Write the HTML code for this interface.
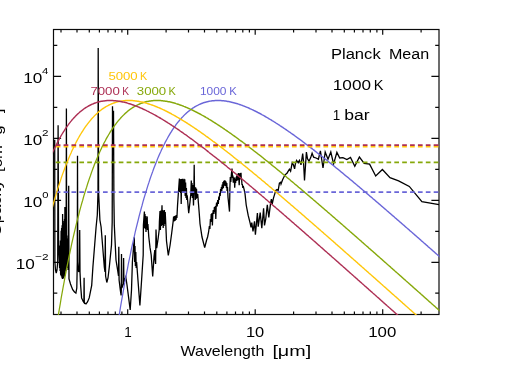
<!DOCTYPE html><html><head><meta charset="utf-8"><style>html,body{margin:0;padding:0;background:#fff}svg{display:block}text{font-family:"Liberation Sans",sans-serif;fill:#000}</style></head><body>
<svg width="507" height="374" viewBox="0 0 507 374">
<rect width="507" height="374" fill="#fff"/>
<defs><clipPath id="c"><rect x="52.9" y="29.0" width="386.6" height="286.0"/></clipPath></defs>
<g stroke="#0a0a0a" stroke-width="1.2" fill="none">
<rect x="53.5" y="29.5" width="385.5" height="285.0"/>
<path d="M61.0 314.5 v-2.9 M61.0 29.5 v2.9 M77.0 314.5 v-2.9 M77.0 29.5 v2.9 M89.3 314.5 v-2.9 M89.3 29.5 v2.9 M99.4 314.5 v-2.9 M99.4 29.5 v2.9 M108.0 314.5 v-2.9 M108.0 29.5 v2.9 M115.3 314.5 v-2.9 M115.3 29.5 v2.9 M121.9 314.5 v-2.9 M121.9 29.5 v2.9 M127.7 314.5 v-5.2 M127.7 29.5 v5.2 M166.1 314.5 v-2.9 M166.1 29.5 v2.9 M188.5 314.5 v-2.9 M188.5 29.5 v2.9 M204.5 314.5 v-2.9 M204.5 29.5 v2.9 M216.8 314.5 v-2.9 M216.8 29.5 v2.9 M226.9 314.5 v-2.9 M226.9 29.5 v2.9 M235.5 314.5 v-2.9 M235.5 29.5 v2.9 M242.8 314.5 v-2.9 M242.8 29.5 v2.9 M249.4 314.5 v-2.9 M249.4 29.5 v2.9 M255.2 314.5 v-5.2 M255.2 29.5 v5.2 M293.6 314.5 v-2.9 M293.6 29.5 v2.9 M316.0 314.5 v-2.9 M316.0 29.5 v2.9 M332.0 314.5 v-2.9 M332.0 29.5 v2.9 M344.3 314.5 v-2.9 M344.3 29.5 v2.9 M354.4 314.5 v-2.9 M354.4 29.5 v2.9 M363.0 314.5 v-2.9 M363.0 29.5 v2.9 M370.3 314.5 v-2.9 M370.3 29.5 v2.9 M376.9 314.5 v-2.9 M376.9 29.5 v2.9 M382.7 314.5 v-5.2 M382.7 29.5 v5.2 M421.1 314.5 v-2.9 M421.1 29.5 v2.9 M53.5 293.2 h3.8 M439.0 293.2 h-3.8 M53.5 262.3 h7.6 M439.0 262.3 h-7.6 M53.5 231.3 h3.8 M439.0 231.3 h-3.8 M53.5 200.3 h7.6 M439.0 200.3 h-7.6 M53.5 169.3 h3.8 M439.0 169.3 h-3.8 M53.5 138.3 h7.6 M439.0 138.3 h-7.6 M53.5 107.4 h3.8 M439.0 107.4 h-3.8 M53.5 76.4 h7.6 M439.0 76.4 h-7.6 M53.5 45.4 h3.8 M439.0 45.4 h-3.8"/>
</g>
<g clip-path="url(#c)" fill="none" stroke-linejoin="round" stroke-linecap="butt">
<path d="M54.7 139.80 L54.9 262.00 L55.5 270.00 L56.2 273.20 L57.0 270.00 L57.7 262.00 L58.1 125.30 L58.6 246.00 L59.4 262.00 L59.6 268.00 L59.9 245.50 L60.1 271.00 L60.4 240.50 L60.6 274.00 L60.8 275.00 L61.1 230.67 L61.3 276.33 L61.6 228.00 L61.9 277.67 L62.1 225.33 L62.4 279.00 L62.6 214.00 L62.8 279.00 L63.0 225.00 L63.3 278.25 L63.5 223.00 L63.8 277.50 L64.0 221.00 L64.2 276.75 L64.5 219.00 L64.7 276.00 L64.9 207.00 L65.1 274.00 L65.3 213.00 L65.6 271.00 L65.8 215.00 L66.1 268.00 L66.4 108.60 L66.7 266.00 L67.0 235.50 L67.4 268.00 L67.8 238.50 L68.1 270.00 L68.4 268.00 L68.7 185.70 L69.0 279.00 L70.5 284.00 L72.7 289.70 L74.5 292.00 L75.9 293.10 L76.8 288.00 L77.3 262.00 L77.5 155.80 L77.8 262.00 L78.6 272.00 L79.4 270.00 L79.7 230.10 L80.0 272.00 L80.6 285.00 L81.6 297.90 L83.2 301.50 L83.9 302.50 L84.1 277.70 L84.3 302.80 L86.0 303.80 L87.5 302.00 L89.2 297.90 L91.7 285.30 L92.9 267.00 L96.1 227.00 L97.3 215.00 L98.0 192.60 L98.2 48.10 L98.6 192.60 L99.9 220.00 L101.1 227.00 L104.3 267.00 L105.0 272.00 L105.3 235.20 L105.6 276.00 L106.8 282.50 L108.0 278.00 L109.3 267.00 L111.5 245.00 L112.2 222.00 L112.5 106.20 L113.0 150.00 L113.5 110.70 L113.9 200.00 L114.3 225.00 L116.0 260.00 L117.6 270.00 L118.5 276.00 L118.8 246.80 L119.1 280.00 L120.3 290.00 L121.1 295.40 L121.3 290.00 L121.5 254.00 L121.8 288.00 L123.4 284.00 L123.6 258.00 L123.9 282.00 L125.8 277.00 L127.0 285.00 L130.2 309.90 L131.5 290.00 L132.4 262.00 L134.3 237.20 L134.7 262.00 L135.0 246.00 L135.4 266.00 L135.8 252.00 L136.2 268.00 L136.6 262.00 L139.9 305.50 L141.6 280.00 L143.2 255.00 L143.4 225.00 L144.4 211.60 L144.6 228.00 L145.0 214.00 L145.3 229.00 L145.7 216.00 L146.0 232.00 L146.4 218.00 L146.7 228.00 L147.2 216.40 L147.5 230.00 L147.9 224.00 L148.8 237.00 L150.0 247.40 L151.2 255.00 L152.7 276.50 L154.0 257.00 L154.8 250.00 L155.2 260.00 L155.6 264.00 L155.8 249.00 L156.0 229.40 L156.7 248.20 L158.2 238.00 L159.2 229.80 L159.4 222.00 L160.0 211.00 L160.4 230.00 L160.9 210.50 L161.3 226.00 L162.0 205.20 L162.4 225.00 L162.8 210.00 L163.2 228.00 L163.6 211.00 L164.0 226.00 L164.4 210.00 L164.8 224.00 L165.2 212.00 L165.6 220.00 L166.5 241.00 L168.3 255.50 L170.1 245.00 L171.7 233.00 L172.5 226.60 L173.2 221.00 L173.6 216.50 L174.0 221.50 L174.5 216.00 L175.0 221.00 L175.5 215.60 L176.0 220.00 L176.5 215.00 L176.9 218.00 L177.5 206.00 L178.3 194.00 L179.4 178.50 L179.8 192.00 L180.2 179.00 L180.6 193.00 L180.9 180.00 L181.2 204.00 L181.6 179.00 L182.0 192.00 L182.4 178.80 L182.8 193.00 L183.2 179.50 L183.6 192.00 L184.0 178.80 L184.4 193.00 L184.8 179.20 L185.2 196.00 L185.6 182.40 L186.0 198.00 L186.4 188.00 L186.8 200.00 L187.2 195.20 L188.7 213.20 L190.0 202.00 L190.8 194.00 L191.3 180.40 L191.6 196.00 L192.0 183.00 L192.4 198.00 L192.8 185.00 L193.2 197.00 L193.5 205.60 L193.9 188.00 L194.2 164.70 L194.5 192.00 L194.9 187.00 L195.3 200.00 L195.7 187.50 L196.1 199.00 L196.5 188.70 L197.0 198.00 L197.7 194.00 L198.5 204.00 L199.3 214.00 L200.0 223.80 L202.0 237.00 L204.7 247.60 L206.6 240.00 L207.6 237.00 L208.6 232.00 L209.4 226.00 L209.9 229.00 L210.4 219.00 L210.9 222.00 L211.2 214.00 L211.7 219.00 L212.0 213.00 L212.4 225.40 L212.8 214.00 L213.3 210.00 L213.9 214.00 L214.4 207.00 L215.0 212.00 L215.4 206.00 L215.8 219.00 L216.2 206.00 L216.6 202.50 L217.2 206.50 L217.7 200.00 L218.3 204.00 L218.8 196.50 L219.3 200.00 L219.7 193.00 L220.2 196.00 L220.6 189.00 L221.0 192.00 L221.4 187.00 L221.8 191.00 L222.2 184.50 L222.6 189.00 L223.0 182.00 L223.4 188.00 L223.8 181.00 L224.1 186.00 L224.4 180.40 L224.8 185.00 L225.2 180.60 L225.6 186.00 L226.0 181.50 L226.4 188.00 L226.8 183.00 L227.1 191.00 L227.5 187.00 L228.0 197.20 L229.5 211.60 L229.9 188.00 L230.3 177.00 L230.8 182.00 L231.4 174.00 L232.0 168.60 L232.5 178.00 L232.9 175.60 L233.3 182.70 L233.8 179.00 L234.3 177.50 L234.7 187.80 L235.2 178.80 L235.6 183.00 L236.0 178.00 L236.5 176.90 L236.9 181.00 L237.5 174.30 L237.9 180.00 L238.4 173.00 L238.8 178.00 L239.2 185.20 L239.6 176.00 L240.0 173.00 L240.4 179.00 L241.0 172.70 L241.3 180.00 L241.6 178.80 L242.0 185.00 L242.3 184.00 L242.8 188.00 L243.2 185.90 L244.2 189.80 L245.0 193.60 L246.2 205.00 L248.2 215.40 L250.2 223.40 L251.0 227.40 L251.8 222.60 L253.0 231.50 L254.5 221.40 L255.4 234.80 L257.4 213.00 L258.2 226.60 L260.2 212.60 L261.8 228.20 L263.6 208.20 L264.5 225.40 L265.8 218.60 L267.3 204.80 L268.8 217.40 L270.6 203.20 L271.4 199.20 L272.2 204.00 L273.4 198.40 L274.6 194.40 L275.8 190.40 L277.0 189.60 L278.2 190.40 L279.4 183.20 L280.6 182.40 L281.0 184.00 L282.6 179.80 L285.0 174.80 L287.0 173.20 L289.4 169.20 L290.6 171.20 L292.2 162.80 L293.4 164.80 L294.6 168.80 L295.4 163.60 L296.6 160.40 L298.2 162.80 L299.4 160.40 L301.0 164.80 L302.7 153.60 L303.5 161.20 L304.5 180.40 L306.4 152.00 L307.5 158.80 L309.0 161.20 L310.7 157.60 L312.1 153.20 L313.6 157.20 L316.0 158.00 L318.4 159.20 L320.4 150.80 L323.0 168.00 L325.2 152.00 L328.0 159.20 L330.8 152.00 L333.6 164.00 L336.9 152.40 L339.7 158.00 L342.9 157.60 L346.9 159.60 L350.5 157.40 L354.8 166.20 L359.4 157.00 L364.2 163.40 L369.6 164.10 L375.7 176.00 L382.4 169.50 L390.0 177.70 L398.6 180.80 L409.3 186.40 L421.9 201.60 L439.0 204.70" stroke="#000" stroke-width="1.3" stroke-linejoin="miter"/>
<g transform="scale(1,1.2)"><path d="M113.8 291.84 L114.8 286.28 L115.8 280.83 L116.7 275.50 L117.7 270.29 L118.7 265.18 L119.7 260.18 L120.6 255.28 L121.6 250.49 L122.6 245.81 L123.6 241.22 L124.5 236.73 L125.5 232.34 L126.5 228.05 L127.5 223.85 L128.4 219.74 L129.4 215.72 L130.4 211.79 L131.3 207.95 L132.3 204.19 L133.3 200.52 L134.3 196.94 L135.2 193.43 L136.2 190.00 L137.2 186.65 L138.2 183.38 L139.1 180.19 L140.1 177.07 L141.1 174.02 L142.1 171.05 L143.0 168.14 L144.0 165.31 L145.0 162.54 L146.0 159.84 L146.9 157.21 L147.9 154.64 L148.9 152.14 L149.8 149.70 L150.8 147.32 L151.8 145.00 L152.8 142.74 L153.7 140.54 L154.7 138.39 L155.7 136.30 L156.7 134.27 L157.6 132.29 L158.6 130.37 L159.6 128.49 L160.6 126.67 L161.5 124.90 L162.5 123.18 L163.5 121.51 L164.5 119.88 L165.4 118.31 L166.4 116.77 L167.4 115.29 L168.3 113.85 L169.3 112.45 L170.3 111.10 L171.3 109.78 L172.2 108.51 L173.2 107.28 L174.2 106.09 L175.2 104.94 L176.1 103.83 L177.1 102.75 L178.1 101.72 L179.1 100.72 L180.0 99.75 L181.0 98.82 L182.0 97.92 L183.0 97.06 L183.9 96.23 L184.9 95.44 L185.9 94.67 L186.9 93.94 L187.8 93.24 L188.8 92.56 L189.8 91.92 L190.7 91.31 L191.7 90.72 L192.7 90.16 L193.7 89.63 L194.6 89.13 L195.6 88.65 L196.6 88.19 L197.6 87.77 L198.5 87.36 L199.5 86.98 L200.5 86.63 L201.5 86.30 L202.4 85.99 L203.4 85.70 L204.4 85.43 L205.4 85.19 L206.3 84.96 L207.3 84.76 L208.3 84.58 L209.2 84.41 L210.2 84.27 L211.2 84.14 L212.2 84.03 L213.1 83.94 L214.1 83.87 L215.1 83.82 L216.1 83.78 L217.0 83.76 L218.0 83.75 L219.0 83.76 L220.0 83.78 L220.9 83.82 L221.9 83.88 L222.9 83.95 L223.9 84.03 L224.8 84.13 L225.8 84.24 L226.8 84.36 L227.7 84.50 L228.7 84.64 L229.7 84.80 L230.7 84.98 L231.6 85.16 L232.6 85.36 L233.6 85.56 L234.6 85.78 L235.5 86.01 L236.5 86.25 L237.5 86.50 L238.5 86.76 L239.4 87.03 L240.4 87.31 L241.4 87.60 L242.4 87.89 L243.3 88.20 L244.3 88.52 L245.3 88.84 L246.2 89.17 L247.2 89.51 L248.2 89.86 L249.2 90.22 L250.1 90.58 L251.1 90.95 L252.1 91.33 L253.1 91.72 L254.0 92.11 L255.0 92.51 L256.0 92.91 L257.0 93.33 L257.9 93.75 L258.9 94.17 L259.9 94.60 L260.9 95.04 L261.8 95.48 L262.8 95.93 L263.8 96.39 L264.8 96.85 L265.7 97.31 L266.7 97.78 L267.7 98.26 L268.6 98.74 L269.6 99.22 L270.6 99.71 L271.6 100.21 L272.5 100.71 L273.5 101.21 L274.5 101.72 L275.5 102.23 L276.4 102.75 L277.4 103.27 L278.4 103.80 L279.4 104.33 L280.3 104.86 L281.3 105.40 L282.3 105.94 L283.3 106.48 L284.2 107.03 L285.2 107.58 L286.2 108.13 L287.1 108.69 L288.1 109.25 L289.1 109.82 L290.1 110.38 L291.0 110.95 L292.0 111.53 L293.0 112.10 L294.0 112.68 L294.9 113.27 L295.9 113.85 L296.9 114.44 L297.9 115.03 L298.8 115.62 L299.8 116.22 L300.8 116.81 L301.8 117.41 L302.7 118.02 L303.7 118.62 L304.7 119.23 L305.6 119.84 L306.6 120.45 L307.6 121.06 L308.6 121.68 L309.5 122.30 L310.5 122.92 L311.5 123.54 L312.5 124.16 L313.4 124.79 L314.4 125.42 L315.4 126.05 L316.4 126.68 L317.3 127.31 L318.3 127.95 L319.3 128.58 L320.3 129.22 L321.2 129.86 L322.2 130.50 L323.2 131.14 L324.1 131.79 L325.1 132.43 L326.1 133.08 L327.1 133.73 L328.0 134.38 L329.0 135.03 L330.0 135.69 L331.0 136.34 L331.9 137.00 L332.9 137.65 L333.9 138.31 L334.9 138.97 L335.8 139.63 L336.8 140.29 L337.8 140.96 L338.8 141.62 L339.7 142.29 L340.7 142.95 L341.7 143.62 L342.7 144.29 L343.6 144.96 L344.6 145.63 L345.6 146.30 L346.5 146.97 L347.5 147.65 L348.5 148.32 L349.5 149.00 L350.4 149.67 L351.4 150.35 L352.4 151.03 L353.4 151.71 L354.3 152.39 L355.3 153.07 L356.3 153.75 L357.3 154.43 L358.2 155.11 L359.2 155.80 L360.2 156.48 L361.2 157.17 L362.1 157.85 L363.1 158.54 L364.1 159.23 L365.0 159.92 L366.0 160.61 L367.0 161.29 L368.0 161.99 L368.9 162.68 L369.9 163.37 L370.9 164.06 L371.9 164.75 L372.8 165.44 L373.8 166.14 L374.8 166.83 L375.8 167.53 L376.7 168.22 L377.7 168.92 L378.7 169.62 L379.7 170.31 L380.6 171.01 L381.6 171.71 L382.6 172.41 L383.5 173.11 L384.5 173.81 L385.5 174.51 L386.5 175.21 L387.4 175.91 L388.4 176.61 L389.4 177.31 L390.4 178.01 L391.3 178.71 L392.3 179.42 L393.3 180.12 L394.3 180.82 L395.2 181.53 L396.2 182.23 L397.2 182.94 L398.2 183.64 L399.1 184.35 L400.1 185.05 L401.1 185.76 L402.1 186.47 L403.0 187.17 L404.0 187.88 L405.0 188.59 L405.9 189.30 L406.9 190.01 L407.9 190.71 L408.9 191.42 L409.8 192.13 L410.8 192.84 L411.8 193.55 L412.8 194.26 L413.7 194.97 L414.7 195.68 L415.7 196.39 L416.7 197.10 L417.6 197.82 L418.6 198.53 L419.6 199.24 L420.6 199.95 L421.5 200.66 L422.5 201.38 L423.5 202.09 L424.4 202.80 L425.4 203.52 L426.4 204.23 L427.4 204.94 L428.3 205.66 L429.3 206.37 L430.3 207.08 L431.3 207.80 L432.2 208.51 L433.2 209.23 L434.2 209.94 L435.2 210.66 L436.1 211.37 L437.1 212.09 L438.1 212.81 L439.1 213.52 L440.0 214.24 L441.0 214.95" stroke="#6a66d8" stroke-width="1.25"/></g>
<path d="M47.85 192.1 H441" stroke="#6a66d8" stroke-width="1.8" stroke-dasharray="4.7 3.174"/>
<g transform="scale(1,1.2)"><path d="M52.5 294.81 L53.4 289.19 L54.4 283.69 L55.4 278.30 L56.4 273.02 L57.3 267.86 L58.3 262.80 L59.3 257.85 L60.3 253.01 L61.2 248.27 L62.2 243.63 L63.2 239.09 L64.2 234.65 L65.1 230.30 L66.1 226.05 L67.1 221.89 L68.1 217.83 L69.0 213.85 L70.0 209.96 L71.0 206.16 L71.9 202.45 L72.9 198.82 L73.9 195.27 L74.9 191.80 L75.8 188.41 L76.8 185.10 L77.8 181.86 L78.8 178.70 L79.7 175.62 L80.7 172.61 L81.7 169.67 L82.7 166.79 L83.6 163.99 L84.6 161.26 L85.6 158.59 L86.6 155.99 L87.5 153.45 L88.5 150.98 L89.5 148.57 L90.5 146.21 L91.4 143.92 L92.4 141.69 L93.4 139.52 L94.3 137.40 L95.3 135.34 L96.3 133.33 L97.3 131.37 L98.2 129.47 L99.2 127.63 L100.2 125.83 L101.2 124.08 L102.1 122.38 L103.1 120.73 L104.1 119.13 L105.1 117.58 L106.0 116.07 L107.0 114.60 L108.0 113.18 L109.0 111.80 L109.9 110.47 L110.9 109.18 L111.9 107.93 L112.8 106.71 L113.8 105.54 L114.8 104.41 L115.8 103.32 L116.7 102.26 L117.7 101.24 L118.7 100.25 L119.7 99.31 L120.6 98.39 L121.6 97.51 L122.6 96.67 L123.6 95.85 L124.5 95.07 L125.5 94.32 L126.5 93.60 L127.5 92.91 L128.4 92.26 L129.4 91.63 L130.4 91.02 L131.3 90.45 L132.3 89.91 L133.3 89.39 L134.3 88.90 L135.2 88.43 L136.2 87.99 L137.2 87.57 L138.2 87.18 L139.1 86.81 L140.1 86.47 L141.1 86.15 L142.1 85.85 L143.0 85.57 L144.0 85.32 L145.0 85.08 L146.0 84.87 L146.9 84.67 L147.9 84.50 L148.9 84.34 L149.8 84.21 L150.8 84.09 L151.8 83.99 L152.8 83.91 L153.7 83.84 L154.7 83.80 L155.7 83.77 L156.7 83.75 L157.6 83.75 L158.6 83.77 L159.6 83.80 L160.6 83.85 L161.5 83.91 L162.5 83.98 L163.5 84.07 L164.5 84.18 L165.4 84.29 L166.4 84.42 L167.4 84.56 L168.3 84.72 L169.3 84.88 L170.3 85.06 L171.3 85.25 L172.2 85.45 L173.2 85.67 L174.2 85.89 L175.2 86.12 L176.1 86.37 L177.1 86.62 L178.1 86.89 L179.1 87.16 L180.0 87.44 L181.0 87.74 L182.0 88.04 L183.0 88.35 L183.9 88.67 L184.9 89.00 L185.9 89.33 L186.9 89.68 L187.8 90.03 L188.8 90.39 L189.8 90.75 L190.7 91.13 L191.7 91.51 L192.7 91.90 L193.7 92.30 L194.6 92.70 L195.6 93.11 L196.6 93.52 L197.6 93.95 L198.5 94.37 L199.5 94.81 L200.5 95.25 L201.5 95.69 L202.4 96.15 L203.4 96.60 L204.4 97.06 L205.4 97.53 L206.3 98.01 L207.3 98.48 L208.3 98.97 L209.2 99.45 L210.2 99.95 L211.2 100.44 L212.2 100.95 L213.1 101.45 L214.1 101.96 L215.1 102.48 L216.1 103.00 L217.0 103.52 L218.0 104.05 L219.0 104.58 L220.0 105.11 L220.9 105.65 L221.9 106.19 L222.9 106.74 L223.9 107.29 L224.8 107.84 L225.8 108.40 L226.8 108.96 L227.7 109.52 L228.7 110.08 L229.7 110.65 L230.7 111.23 L231.6 111.80 L232.6 112.38 L233.6 112.96 L234.6 113.54 L235.5 114.13 L236.5 114.72 L237.5 115.31 L238.5 115.90 L239.4 116.50 L240.4 117.10 L241.4 117.70 L242.4 118.30 L243.3 118.91 L244.3 119.52 L245.3 120.13 L246.2 120.74 L247.2 121.35 L248.2 121.97 L249.2 122.59 L250.1 123.21 L251.1 123.83 L252.1 124.46 L253.1 125.09 L254.0 125.71 L255.0 126.34 L256.0 126.98 L257.0 127.61 L257.9 128.25 L258.9 128.88 L259.9 129.52 L260.9 130.16 L261.8 130.81 L262.8 131.45 L263.8 132.09 L264.8 132.74 L265.7 133.39 L266.7 134.04 L267.7 134.69 L268.6 135.34 L269.6 136.00 L270.6 136.65 L271.6 137.31 L272.5 137.96 L273.5 138.62 L274.5 139.28 L275.5 139.94 L276.4 140.61 L277.4 141.27 L278.4 141.94 L279.4 142.60 L280.3 143.27 L281.3 143.94 L282.3 144.61 L283.3 145.28 L284.2 145.95 L285.2 146.62 L286.2 147.29 L287.1 147.97 L288.1 148.64 L289.1 149.32 L290.1 149.99 L291.0 150.67 L292.0 151.35 L293.0 152.03 L294.0 152.71 L294.9 153.39 L295.9 154.07 L296.9 154.75 L297.9 155.44 L298.8 156.12 L299.8 156.81 L300.8 157.49 L301.8 158.18 L302.7 158.87 L303.7 159.55 L304.7 160.24 L305.6 160.93 L306.6 161.62 L307.6 162.31 L308.6 163.00 L309.5 163.69 L310.5 164.39 L311.5 165.08 L312.5 165.77 L313.4 166.47 L314.4 167.16 L315.4 167.86 L316.4 168.55 L317.3 169.25 L318.3 169.95 L319.3 170.64 L320.3 171.34 L321.2 172.04 L322.2 172.74 L323.2 173.44 L324.1 174.14 L325.1 174.84 L326.1 175.54 L327.1 176.24 L328.0 176.94 L329.0 177.64 L330.0 178.34 L331.0 179.05 L331.9 179.75 L332.9 180.45 L333.9 181.16 L334.9 181.86 L335.8 182.57 L336.8 183.27 L337.8 183.98 L338.8 184.68 L339.7 185.39 L340.7 186.09 L341.7 186.80 L342.7 187.51 L343.6 188.22 L344.6 188.92 L345.6 189.63 L346.5 190.34 L347.5 191.05 L348.5 191.76 L349.5 192.47 L350.4 193.18 L351.4 193.89 L352.4 194.60 L353.4 195.31 L354.3 196.02 L355.3 196.73 L356.3 197.44 L357.3 198.15 L358.2 198.86 L359.2 199.58 L360.2 200.29 L361.2 201.00 L362.1 201.71 L363.1 202.43 L364.1 203.14 L365.0 203.85 L366.0 204.57 L367.0 205.28 L368.0 205.99 L368.9 206.71 L369.9 207.42 L370.9 208.14 L371.9 208.85 L372.8 209.57 L373.8 210.28 L374.8 211.00 L375.8 211.71 L376.7 212.43 L377.7 213.14 L378.7 213.86 L379.7 214.58 L380.6 215.29 L381.6 216.01 L382.6 216.73 L383.5 217.44 L384.5 218.16 L385.5 218.88 L386.5 219.59 L387.4 220.31 L388.4 221.03 L389.4 221.75 L390.4 222.46 L391.3 223.18 L392.3 223.90 L393.3 224.62 L394.3 225.34 L395.2 226.06 L396.2 226.77 L397.2 227.49 L398.2 228.21 L399.1 228.93 L400.1 229.65 L401.1 230.37 L402.1 231.09 L403.0 231.81 L404.0 232.53 L405.0 233.25 L405.9 233.97 L406.9 234.69 L407.9 235.41 L408.9 236.13 L409.8 236.85 L410.8 237.57 L411.8 238.29 L412.8 239.01 L413.7 239.73 L414.7 240.45 L415.7 241.17 L416.7 241.89 L417.6 242.61 L418.6 243.33 L419.6 244.05 L420.6 244.77 L421.5 245.50 L422.5 246.22 L423.5 246.94 L424.4 247.66 L425.4 248.38 L426.4 249.10 L427.4 249.82 L428.3 250.55 L429.3 251.27 L430.3 251.99 L431.3 252.71 L432.2 253.43 L433.2 254.16 L434.2 254.88 L435.2 255.60 L436.1 256.32 L437.1 257.04 L438.1 257.77 L439.1 258.49 L440.0 259.21 L441.0 259.93" stroke="#86a80a" stroke-width="1.25"/></g>
<path d="M47.85 162.4 H441" stroke="#86a80a" stroke-width="1.8" stroke-dasharray="4.7 3.174"/>
<g transform="scale(1,1.2)"><path d="M51.5 175.47 L52.5 172.46 L53.4 169.53 L54.4 166.66 L55.4 163.86 L56.4 161.13 L57.3 158.46 L58.3 155.87 L59.3 153.33 L60.3 150.86 L61.2 148.45 L62.2 146.10 L63.2 143.81 L64.2 141.58 L65.1 139.41 L66.1 137.30 L67.1 135.24 L68.1 133.23 L69.0 131.28 L70.0 129.38 L71.0 127.54 L71.9 125.74 L72.9 124.00 L73.9 122.30 L74.9 120.65 L75.8 119.05 L76.8 117.50 L77.8 115.99 L78.8 114.53 L79.7 113.11 L80.7 111.74 L81.7 110.41 L82.7 109.12 L83.6 107.87 L84.6 106.66 L85.6 105.49 L86.6 104.36 L87.5 103.26 L88.5 102.21 L89.5 101.19 L90.5 100.21 L91.4 99.26 L92.4 98.35 L93.4 97.47 L94.3 96.63 L95.3 95.81 L96.3 95.03 L97.3 94.29 L98.2 93.57 L99.2 92.88 L100.2 92.22 L101.2 91.60 L102.1 91.00 L103.1 90.42 L104.1 89.88 L105.1 89.36 L106.0 88.87 L107.0 88.41 L108.0 87.97 L109.0 87.55 L109.9 87.16 L110.9 86.80 L111.9 86.45 L112.8 86.13 L113.8 85.83 L114.8 85.56 L115.8 85.30 L116.7 85.07 L117.7 84.86 L118.7 84.66 L119.7 84.49 L120.6 84.34 L121.6 84.20 L122.6 84.08 L123.6 83.99 L124.5 83.90 L125.5 83.84 L126.5 83.79 L127.5 83.76 L128.4 83.75 L129.4 83.75 L130.4 83.77 L131.3 83.80 L132.3 83.85 L133.3 83.91 L134.3 83.99 L135.2 84.08 L136.2 84.18 L137.2 84.30 L138.2 84.43 L139.1 84.57 L140.1 84.73 L141.1 84.89 L142.1 85.07 L143.0 85.26 L144.0 85.46 L145.0 85.68 L146.0 85.90 L146.9 86.14 L147.9 86.38 L148.9 86.63 L149.8 86.90 L150.8 87.17 L151.8 87.46 L152.8 87.75 L153.7 88.05 L154.7 88.36 L155.7 88.68 L156.7 89.01 L157.6 89.35 L158.6 89.69 L159.6 90.05 L160.6 90.41 L161.5 90.77 L162.5 91.15 L163.5 91.53 L164.5 91.92 L165.4 92.32 L166.4 92.72 L167.4 93.13 L168.3 93.54 L169.3 93.97 L170.3 94.39 L171.3 94.83 L172.2 95.27 L173.2 95.72 L174.2 96.17 L175.2 96.62 L176.1 97.09 L177.1 97.56 L178.1 98.03 L179.1 98.51 L180.0 98.99 L181.0 99.48 L182.0 99.97 L183.0 100.47 L183.9 100.97 L184.9 101.48 L185.9 101.99 L186.9 102.50 L187.8 103.02 L188.8 103.54 L189.8 104.07 L190.7 104.60 L191.7 105.14 L192.7 105.68 L193.7 106.22 L194.6 106.77 L195.6 107.31 L196.6 107.87 L197.6 108.42 L198.5 108.98 L199.5 109.55 L200.5 110.11 L201.5 110.68 L202.4 111.25 L203.4 111.83 L204.4 112.41 L205.4 112.99 L206.3 113.57 L207.3 114.16 L208.3 114.74 L209.2 115.34 L210.2 115.93 L211.2 116.53 L212.2 117.13 L213.1 117.73 L214.1 118.33 L215.1 118.94 L216.1 119.55 L217.0 120.16 L218.0 120.77 L219.0 121.38 L220.0 122.00 L220.9 122.62 L221.9 123.24 L222.9 123.86 L223.9 124.49 L224.8 125.12 L225.8 125.74 L226.8 126.37 L227.7 127.01 L228.7 127.64 L229.7 128.28 L230.7 128.91 L231.6 129.55 L232.6 130.19 L233.6 130.84 L234.6 131.48 L235.5 132.13 L236.5 132.77 L237.5 133.42 L238.5 134.07 L239.4 134.72 L240.4 135.37 L241.4 136.03 L242.4 136.68 L243.3 137.34 L244.3 138.00 L245.3 138.66 L246.2 139.32 L247.2 139.98 L248.2 140.64 L249.2 141.30 L250.1 141.97 L251.1 142.63 L252.1 143.30 L253.1 143.97 L254.0 144.64 L255.0 145.31 L256.0 145.98 L257.0 146.65 L257.9 147.32 L258.9 148.00 L259.9 148.67 L260.9 149.35 L261.8 150.03 L262.8 150.70 L263.8 151.38 L264.8 152.06 L265.7 152.74 L266.7 153.42 L267.7 154.10 L268.6 154.79 L269.6 155.47 L270.6 156.16 L271.6 156.84 L272.5 157.53 L273.5 158.21 L274.5 158.90 L275.5 159.59 L276.4 160.28 L277.4 160.96 L278.4 161.65 L279.4 162.34 L280.3 163.04 L281.3 163.73 L282.3 164.42 L283.3 165.11 L284.2 165.81 L285.2 166.50 L286.2 167.19 L287.1 167.89 L288.1 168.59 L289.1 169.28 L290.1 169.98 L291.0 170.68 L292.0 171.37 L293.0 172.07 L294.0 172.77 L294.9 173.47 L295.9 174.17 L296.9 174.87 L297.9 175.57 L298.8 176.27 L299.8 176.97 L300.8 177.68 L301.8 178.38 L302.7 179.08 L303.7 179.78 L304.7 180.49 L305.6 181.19 L306.6 181.90 L307.6 182.60 L308.6 183.31 L309.5 184.01 L310.5 184.72 L311.5 185.42 L312.5 186.13 L313.4 186.84 L314.4 187.54 L315.4 188.25 L316.4 188.96 L317.3 189.67 L318.3 190.37 L319.3 191.08 L320.3 191.79 L321.2 192.50 L322.2 193.21 L323.2 193.92 L324.1 194.63 L325.1 195.34 L326.1 196.05 L327.1 196.76 L328.0 197.47 L329.0 198.19 L330.0 198.90 L331.0 199.61 L331.9 200.32 L332.9 201.03 L333.9 201.75 L334.9 202.46 L335.8 203.17 L336.8 203.89 L337.8 204.60 L338.8 205.31 L339.7 206.03 L340.7 206.74 L341.7 207.46 L342.7 208.17 L343.6 208.89 L344.6 209.60 L345.6 210.32 L346.5 211.03 L347.5 211.75 L348.5 212.46 L349.5 213.18 L350.4 213.89 L351.4 214.61 L352.4 215.33 L353.4 216.04 L354.3 216.76 L355.3 217.48 L356.3 218.19 L357.3 218.91 L358.2 219.63 L359.2 220.35 L360.2 221.06 L361.2 221.78 L362.1 222.50 L363.1 223.22 L364.1 223.94 L365.0 224.65 L366.0 225.37 L367.0 226.09 L368.0 226.81 L368.9 227.53 L369.9 228.25 L370.9 228.97 L371.9 229.68 L372.8 230.40 L373.8 231.12 L374.8 231.84 L375.8 232.56 L376.7 233.28 L377.7 234.00 L378.7 234.72 L379.7 235.44 L380.6 236.16 L381.6 236.88 L382.6 237.60 L383.5 238.32 L384.5 239.04 L385.5 239.76 L386.5 240.48 L387.4 241.20 L388.4 241.93 L389.4 242.65 L390.4 243.37 L391.3 244.09 L392.3 244.81 L393.3 245.53 L394.3 246.25 L395.2 246.97 L396.2 247.69 L397.2 248.42 L398.2 249.14 L399.1 249.86 L400.1 250.58 L401.1 251.30 L402.1 252.02 L403.0 252.75 L404.0 253.47 L405.0 254.19 L405.9 254.91 L406.9 255.63 L407.9 256.36 L408.9 257.08 L409.8 257.80 L410.8 258.52 L411.8 259.25 L412.8 259.97 L413.7 260.69 L414.7 261.41 L415.7 262.14 L416.7 262.86 L417.6 263.58 L418.6 264.30 L419.6 265.03 L420.6 265.75 L421.5 266.47 L422.5 267.20 L423.5 267.92 L424.4 268.64 L425.4 269.36 L426.4 270.09 L427.4 270.81 L428.3 271.53 L429.3 272.26 L430.3 272.98 L431.3 273.70 L432.2 274.43 L433.2 275.15 L434.2 275.87 L435.2 276.60 L436.1 277.32 L437.1 278.05 L438.1 278.77 L439.1 279.49 L440.0 280.22 L441.0 280.94" stroke="#ffc60a" stroke-width="1.25"/></g>
<path d="M47.85 146.6 H441" stroke="#ffc60a" stroke-width="1.8" stroke-dasharray="4.7 3.174"/>
<g transform="scale(1,1.2)"><path d="M51.5 129.13 L52.5 127.29 L53.4 125.51 L54.4 123.77 L55.4 122.08 L56.4 120.44 L57.3 118.84 L58.3 117.30 L59.3 115.80 L60.3 114.34 L61.2 112.93 L62.2 111.56 L63.2 110.23 L64.2 108.95 L65.1 107.70 L66.1 106.50 L67.1 105.33 L68.1 104.21 L69.0 103.12 L70.0 102.07 L71.0 101.06 L71.9 100.08 L72.9 99.14 L73.9 98.23 L74.9 97.36 L75.8 96.52 L76.8 95.71 L77.8 94.93 L78.8 94.19 L79.7 93.47 L80.7 92.79 L81.7 92.14 L82.7 91.51 L83.6 90.92 L84.6 90.35 L85.6 89.81 L86.6 89.30 L87.5 88.81 L88.5 88.35 L89.5 87.91 L90.5 87.50 L91.4 87.11 L92.4 86.75 L93.4 86.41 L94.3 86.09 L95.3 85.80 L96.3 85.52 L97.3 85.27 L98.2 85.04 L99.2 84.83 L100.2 84.64 L101.2 84.47 L102.1 84.32 L103.1 84.18 L104.1 84.07 L105.1 83.97 L106.0 83.90 L107.0 83.83 L108.0 83.79 L109.0 83.76 L109.9 83.75 L110.9 83.75 L111.9 83.77 L112.8 83.81 L113.8 83.86 L114.8 83.92 L115.8 84.00 L116.7 84.09 L117.7 84.20 L118.7 84.32 L119.7 84.45 L120.6 84.59 L121.6 84.75 L122.6 84.92 L123.6 85.10 L124.5 85.29 L125.5 85.49 L126.5 85.71 L127.5 85.93 L128.4 86.17 L129.4 86.41 L130.4 86.67 L131.3 86.94 L132.3 87.21 L133.3 87.50 L134.3 87.79 L135.2 88.09 L136.2 88.41 L137.2 88.73 L138.2 89.06 L139.1 89.39 L140.1 89.74 L141.1 90.09 L142.1 90.45 L143.0 90.82 L144.0 91.20 L145.0 91.58 L146.0 91.97 L146.9 92.37 L147.9 92.77 L148.9 93.18 L149.8 93.60 L150.8 94.02 L151.8 94.45 L152.8 94.89 L153.7 95.33 L154.7 95.78 L155.7 96.23 L156.7 96.69 L157.6 97.15 L158.6 97.62 L159.6 98.09 L160.6 98.57 L161.5 99.05 L162.5 99.54 L163.5 100.04 L164.5 100.54 L165.4 101.04 L166.4 101.54 L167.4 102.06 L168.3 102.57 L169.3 103.09 L170.3 103.62 L171.3 104.14 L172.2 104.67 L173.2 105.21 L174.2 105.75 L175.2 106.29 L176.1 106.84 L177.1 107.39 L178.1 107.94 L179.1 108.50 L180.0 109.06 L181.0 109.62 L182.0 110.19 L183.0 110.76 L183.9 111.33 L184.9 111.90 L185.9 112.48 L186.9 113.06 L187.8 113.65 L188.8 114.23 L189.8 114.82 L190.7 115.42 L191.7 116.01 L192.7 116.61 L193.7 117.21 L194.6 117.81 L195.6 118.41 L196.6 119.02 L197.6 119.63 L198.5 120.24 L199.5 120.85 L200.5 121.47 L201.5 122.08 L202.4 122.70 L203.4 123.32 L204.4 123.95 L205.4 124.57 L206.3 125.20 L207.3 125.83 L208.3 126.46 L209.2 127.09 L210.2 127.73 L211.2 128.36 L212.2 129.00 L213.1 129.64 L214.1 130.28 L215.1 130.92 L216.1 131.57 L217.0 132.21 L218.0 132.86 L219.0 133.51 L220.0 134.16 L220.9 134.81 L221.9 135.46 L222.9 136.11 L223.9 136.77 L224.8 137.43 L225.8 138.08 L226.8 138.74 L227.7 139.40 L228.7 140.06 L229.7 140.73 L230.7 141.39 L231.6 142.06 L232.6 142.72 L233.6 143.39 L234.6 144.06 L235.5 144.73 L236.5 145.40 L237.5 146.07 L238.5 146.74 L239.4 147.41 L240.4 148.09 L241.4 148.76 L242.4 149.44 L243.3 150.12 L244.3 150.79 L245.3 151.47 L246.2 152.15 L247.2 152.83 L248.2 153.51 L249.2 154.20 L250.1 154.88 L251.1 155.56 L252.1 156.25 L253.1 156.93 L254.0 157.62 L255.0 158.30 L256.0 158.99 L257.0 159.68 L257.9 160.37 L258.9 161.06 L259.9 161.75 L260.9 162.44 L261.8 163.13 L262.8 163.82 L263.8 164.51 L264.8 165.21 L265.7 165.90 L266.7 166.59 L267.7 167.29 L268.6 167.98 L269.6 168.68 L270.6 169.38 L271.6 170.07 L272.5 170.77 L273.5 171.47 L274.5 172.17 L275.5 172.86 L276.4 173.56 L277.4 174.26 L278.4 174.96 L279.4 175.66 L280.3 176.37 L281.3 177.07 L282.3 177.77 L283.3 178.47 L284.2 179.17 L285.2 179.88 L286.2 180.58 L287.1 181.29 L288.1 181.99 L289.1 182.69 L290.1 183.40 L291.0 184.10 L292.0 184.81 L293.0 185.52 L294.0 186.22 L294.9 186.93 L295.9 187.64 L296.9 188.35 L297.9 189.05 L298.8 189.76 L299.8 190.47 L300.8 191.18 L301.8 191.89 L302.7 192.60 L303.7 193.31 L304.7 194.02 L305.6 194.73 L306.6 195.44 L307.6 196.15 L308.6 196.86 L309.5 197.57 L310.5 198.28 L311.5 198.99 L312.5 199.71 L313.4 200.42 L314.4 201.13 L315.4 201.84 L316.4 202.56 L317.3 203.27 L318.3 203.98 L319.3 204.70 L320.3 205.41 L321.2 206.12 L322.2 206.84 L323.2 207.55 L324.1 208.27 L325.1 208.98 L326.1 209.70 L327.1 210.41 L328.0 211.13 L329.0 211.84 L330.0 212.56 L331.0 213.27 L331.9 213.99 L332.9 214.71 L333.9 215.42 L334.9 216.14 L335.8 216.86 L336.8 217.57 L337.8 218.29 L338.8 219.01 L339.7 219.72 L340.7 220.44 L341.7 221.16 L342.7 221.88 L343.6 222.60 L344.6 223.31 L345.6 224.03 L346.5 224.75 L347.5 225.47 L348.5 226.19 L349.5 226.91 L350.4 227.62 L351.4 228.34 L352.4 229.06 L353.4 229.78 L354.3 230.50 L355.3 231.22 L356.3 231.94 L357.3 232.66 L358.2 233.38 L359.2 234.10 L360.2 234.82 L361.2 235.54 L362.1 236.26 L363.1 236.98 L364.1 237.70 L365.0 238.42 L366.0 239.14 L367.0 239.86 L368.0 240.58 L368.9 241.30 L369.9 242.02 L370.9 242.74 L371.9 243.46 L372.8 244.18 L373.8 244.91 L374.8 245.63 L375.8 246.35 L376.7 247.07 L377.7 247.79 L378.7 248.51 L379.7 249.23 L380.6 249.96 L381.6 250.68 L382.6 251.40 L383.5 252.12 L384.5 252.84 L385.5 253.56 L386.5 254.29 L387.4 255.01 L388.4 255.73 L389.4 256.45 L390.4 257.18 L391.3 257.90 L392.3 258.62 L393.3 259.34 L394.3 260.06 L395.2 260.79 L396.2 261.51 L397.2 262.23 L398.2 262.96 L399.1 263.68 L400.1 264.40 L401.1 265.12 L402.1 265.85 L403.0 266.57 L404.0 267.29 L405.0 268.02 L405.9 268.74 L406.9 269.46 L407.9 270.18 L408.9 270.91 L409.8 271.63 L410.8 272.35 L411.8 273.08 L412.8 273.80 L413.7 274.52 L414.7 275.25 L415.7 275.97 L416.7 276.69 L417.6 277.42 L418.6 278.14 L419.6 278.87 L420.6 279.59 L421.5 280.31 L422.5 281.04 L423.5 281.76 L424.4 282.48 L425.4 283.21 L426.4 283.93 L427.4 284.66 L428.3 285.38 L429.3 286.10 L430.3 286.83 L431.3 287.55 L432.2 288.28 L433.2 289.00 L434.2 289.72 L435.2 290.45 L436.1 291.17 L437.1 291.90 L438.1 292.62 L439.1 293.34 L440.0 294.07 L441.0 294.79" stroke="#ad2f54" stroke-width="1.25"/></g>
<path d="M47.85 145.2 H441" stroke="#ad2f54" stroke-width="1.8" stroke-dasharray="4.7 3.174"/>
</g>
<g style="will-change:opacity;filter:saturate(1)">
<text x="23.3" y="82.8" font-size="15.3" text-anchor="start" textLength="19.1" lengthAdjust="spacingAndGlyphs">10</text>
<text x="42.0" y="74.3" font-size="9.3" text-anchor="start" textLength="6.3" lengthAdjust="spacingAndGlyphs">4</text>
<text x="23.3" y="144.7" font-size="15.3" text-anchor="start" textLength="19.1" lengthAdjust="spacingAndGlyphs">10</text>
<text x="42.1" y="136.2" font-size="9.3" text-anchor="start" textLength="6.5" lengthAdjust="spacingAndGlyphs">2</text>
<text x="23.3" y="206.7" font-size="15.3" text-anchor="start" textLength="19.1" lengthAdjust="spacingAndGlyphs">10</text>
<text x="42.3" y="198.2" font-size="9.3" text-anchor="start" textLength="6.2" lengthAdjust="spacingAndGlyphs">0</text>
<text x="15.7" y="268.7" font-size="15.3" text-anchor="start" textLength="19.1" lengthAdjust="spacingAndGlyphs">10</text>
<text x="35.1" y="260.2" font-size="9.3" text-anchor="start" textLength="13.5" lengthAdjust="spacingAndGlyphs">−2</text>
<text x="124.2" y="337.1" font-size="15.3" text-anchor="start" textLength="7.5" lengthAdjust="spacingAndGlyphs">1</text>
<text x="245.9" y="337.1" font-size="15.3" text-anchor="start" textLength="18.3" lengthAdjust="spacingAndGlyphs">10</text>
<text x="368.2" y="337.1" font-size="15.3" text-anchor="start" textLength="28.1" lengthAdjust="spacingAndGlyphs">100</text>
<text x="180.5" y="356.2" font-size="14.8" text-anchor="start" textLength="83.8" lengthAdjust="spacingAndGlyphs">Wavelength</text>
<text x="272.4" y="356.2" font-size="14.8" text-anchor="start" textLength="38.8" lengthAdjust="spacingAndGlyphs">[μm]</text>
<text x="330.9" y="58.7" font-size="15.4" text-anchor="start" textLength="49.8" lengthAdjust="spacingAndGlyphs">Planck</text>
<text x="388.9" y="58.7" font-size="15.4" text-anchor="start" textLength="40.2" lengthAdjust="spacingAndGlyphs">Mean</text>
<text x="332.8" y="89.8" font-size="15.3" text-anchor="start" textLength="38.2" lengthAdjust="spacingAndGlyphs">1000</text>
<text x="373.8" y="89.8" font-size="15.4" text-anchor="start" textLength="9.7" lengthAdjust="spacingAndGlyphs">K</text>
<text x="332.7" y="120.3" font-size="15.3" text-anchor="start" textLength="7.5" lengthAdjust="spacingAndGlyphs">1</text>
<text x="344.2" y="120.3" font-size="15.4" text-anchor="start" textLength="25.4" lengthAdjust="spacingAndGlyphs">bar</text>
<text x="108.4" y="80.4" font-size="11.5" text-anchor="start" textLength="29.3" lengthAdjust="spacingAndGlyphs" style="fill:#ffc60a">5000</text>
<text x="140.1" y="80.4" font-size="11.5" text-anchor="start" textLength="7.2" lengthAdjust="spacingAndGlyphs" style="fill:#ffc60a">K</text>
<text x="90.4" y="95.1" font-size="11.5" text-anchor="start" textLength="29.4" lengthAdjust="spacingAndGlyphs" style="fill:#ad2f54">7000</text>
<text x="122.3" y="95.1" font-size="11.5" text-anchor="start" textLength="6.8" lengthAdjust="spacingAndGlyphs" style="fill:#ad2f54">K</text>
<text x="136.8" y="95.1" font-size="11.5" text-anchor="start" textLength="29.4" lengthAdjust="spacingAndGlyphs" style="fill:#86a80a">3000</text>
<text x="168.4" y="95.1" font-size="11.5" text-anchor="start" textLength="7.3" lengthAdjust="spacingAndGlyphs" style="fill:#86a80a">K</text>
<text x="199.9" y="95.1" font-size="11.5" text-anchor="start" textLength="26.6" lengthAdjust="spacingAndGlyphs" style="fill:#6a66d8">1000</text>
<text x="229.2" y="95.1" font-size="11.5" text-anchor="start" textLength="7.5" lengthAdjust="spacingAndGlyphs" style="fill:#6a66d8">K</text>
<g transform="translate(0.9,236.3) rotate(-90)"><text x="0" y="0" font-size="15" textLength="56.5" lengthAdjust="spacingAndGlyphs">Opacity</text></g>
<g transform="translate(1.5,172.1) rotate(-90)"><text x="0" y="0" font-size="15" textLength="63.4" lengthAdjust="spacingAndGlyphs">[cm<tspan font-size="9.5" dy="-6">2</tspan><tspan dy="6"> g</tspan><tspan font-size="9.5" dy="-6">−1</tspan><tspan dy="6">]</tspan></text></g>
</g>
</svg></body></html>
